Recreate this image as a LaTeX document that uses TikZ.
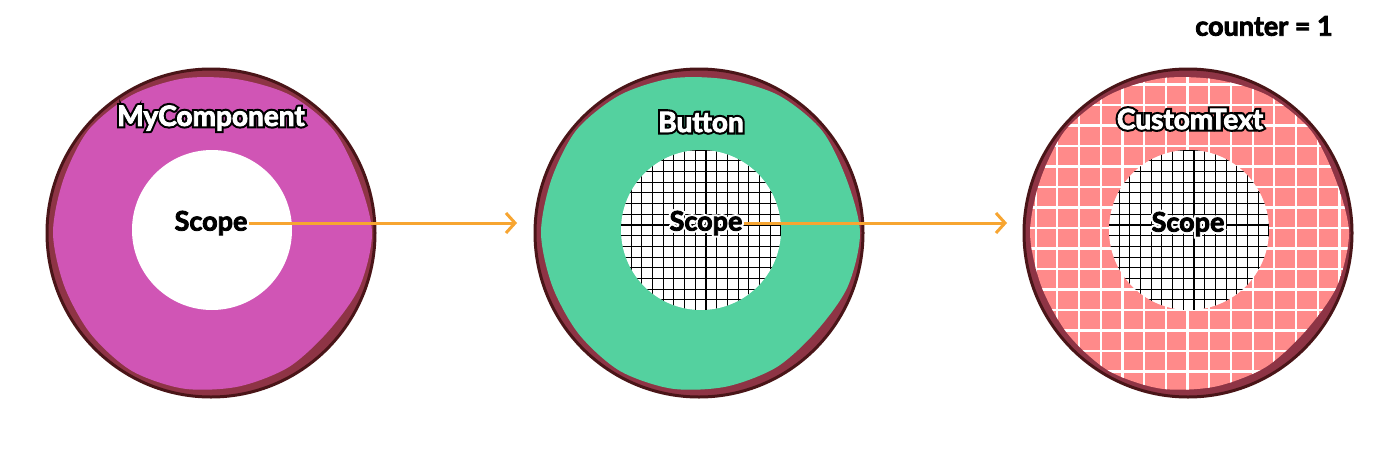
\documentclass[tikz,border=0pt]{standalone}
\usepackage{fontspec}
\setmainfont{Lato}
\newfontfamily\heavyfont{Lato}[FakeBold=3]
\newfontfamily\rimfont{Lato}[FakeBold=18]
\usetikzlibrary{arrows.meta}
\definecolor{ringdark}{HTML}{4A1518}
\definecolor{ringmid}{HTML}{8E3445}
\definecolor{pinkfill}{HTML}{D055B5}
\definecolor{greenfill}{HTML}{54D19F}
\definecolor{salmonfill}{HTML}{FF8A8A}
\definecolor{arroworange}{HTML}{F7A531}
\newcommand{\rimtext}[3]{\rlap{\rimfont\bfseries\textcolor{#1}{#3}}\textcolor{#2}{\heavyfont\bfseries #3}}
\tikzset{
  outerring/.style={fill=ringmid},
  outerstroke/.style={draw=ringdark, line width=3pt},
  title/.style={font=\fontsize{28}{32}\selectfont, inner sep=0pt},
  scopetxt/.style={font=\fontsize{27}{31}\selectfont, inner sep=1pt},
  flow/.style={draw=arroworange, line width=3pt, -{Straight Barb[length=9pt,width=20pt,line width=3pt]}},
  innergrid/.style={draw=black, line width=1.15pt},
  outergrid/.style={draw=white, line width=2.2pt},
}
\newcommand{\blobpath}{plot[smooth cycle] coordinates {(0:161) (20:157) (40:160) (60:159) (80:156) (100:157) (120:159) (140:160) (160:157) (180:158) (200:156) (220:157) (240:159) (260:158) (280:156) (300:155) (320:153) (340:158)}}
\begin{document}
\begin{tikzpicture}[x=1pt,y=-1pt]
\useasboundingbox (0,0) rectangle (1400,461);
\fill[white] (0,0) rectangle (1400,461);

% ---------- circle 1 ----------
\begin{scope}[shift={(211,233)}, yscale=-1]
  \fill[outerring] (0,0) circle[radius=164pt];
  \fill[pinkfill] \blobpath;
  \draw[outerstroke] (0,0) circle[radius=164pt];
  \fill[white] (1,3) circle[radius=80pt];
\end{scope}

% ---------- circle 2 ----------
\begin{scope}[shift={(699,233)}, yscale=-1]
  \fill[outerring] (0,0) circle[radius=164pt];
  \fill[greenfill] \blobpath;
  \draw[outerstroke] (0,0) circle[radius=164pt];
  \fill[white] (2,3) circle[radius=80pt];
  \begin{scope}
    \clip (2,3) circle[radius=80pt];
    \foreach \i in {-8,...,8} {
      \draw[innergrid] (7+\i*10.7,-90) -- (7+\i*10.7,95);
      \draw[innergrid] (-90,8+\i*10.7) -- (95,8+\i*10.7);
    }
  \end{scope}
\end{scope}

% ---------- circle 3 ----------
\begin{scope}[shift={(1188,233)}, yscale=-1]
  \fill[outerring] (0,0) circle[radius=164pt];
  \fill[salmonfill] \blobpath;
  \begin{scope}
    \clip \blobpath;
    \foreach \i in {-8,...,8} {
      \draw[outergrid] (\i*21.7-0.5,-170) -- (\i*21.7-0.5,170);
      \draw[outergrid] (-170,\i*20.5+5) -- (170,\i*20.5+5);
    }
  \end{scope}
  \draw[outerstroke] (0,0) circle[radius=164pt];
  \fill[white] (1,3) circle[radius=80pt];
  \begin{scope}
    \clip (1,3) circle[radius=80pt];
    \foreach \i in {-8,...,8} {
      \draw[innergrid] (6+\i*10.7,-90) -- (6+\i*10.7,95);
      \draw[innergrid] (-90,8+\i*10.7) -- (95,8+\i*10.7);
    }
  \end{scope}
\end{scope}

% ---------- labels ----------
\node[title] (l1) at (211,118) {\rimtext{black}{white}{MyComponent}};
\node[title] (l2) at (701,122) {\rimtext{black}{white}{Button}};
\node[title] (l3) at (1190,119) {\rimtext{black}{white}{CustomText}};

\node[scopetxt] (s1) at (211,223) {\heavyfont\bfseries Scope};
\node[scopetxt] (s2) at (706,223) {\rimtext{white}{black}{Scope}};
\node[scopetxt] (s3) at (1188,224) {\rimtext{white}{black}{Scope}};

\node[font=\fontsize{27}{31}\selectfont\heavyfont\bfseries, inner sep=0pt] (ctr) at (1264,26) {counter = 1};

% ---------- arrows ----------
\coordinate (e1) at (517,223);
\coordinate (e2) at (1007,223);
\draw[flow] (s1.east) -- (e1);
\draw[flow] (s2.east) -- (e2);
\end{tikzpicture}
\end{document}
